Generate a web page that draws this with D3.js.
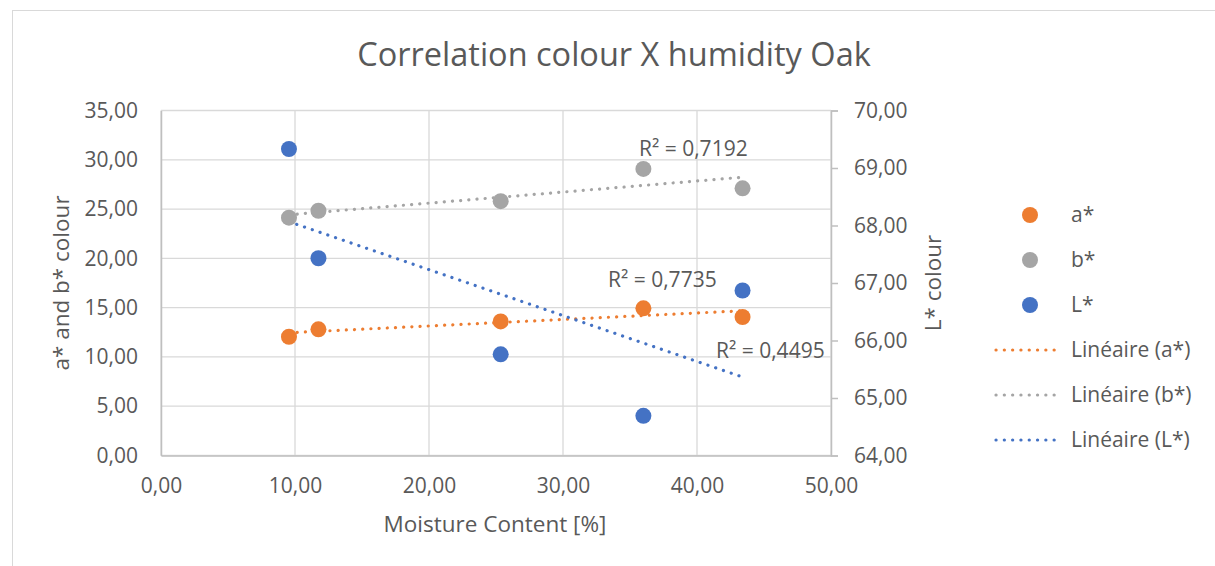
<!DOCTYPE html>
<html>
<head>
<meta charset="utf-8">
<script src="https://cdn.jsdelivr.net/npm/d3@7"></script>
<style>
  body { margin: 0; background: #fff; }
  text { font-family: "Open Sans", sans-serif; fill: #595959; }
</style>
</head>
<body>
<svg id="chart" width="1215" height="566"></svg>
<script>
// donnees
var moisture = [9.55, 11.75, 25.35, 36.0, 43.4];
var aStar = [12.05, 12.8, 13.6, 14.93, 14.05];
var bStar = [24.13, 24.83, 25.8, 29.07, 27.1];
var lStar = [69.33, 67.43, 65.76, 64.69, 66.87];

var xTicks = [0, 10, 20, 30, 40, 50];
var leftTicks = [0, 5, 10, 15, 20, 25, 30, 35];
var rightTicks = [64, 65, 66, 67, 68, 69, 70];

var seriesNames = ["a*", "b*", "L*"];
var colors = ["#ED7D31", "#A5A5A5", "#4472C4"];
var r2Labels = ["R² = 0,7735", "R² = 0,7192", "R² = 0,4495"];

var svg = d3.select("#chart");
var fmt = function (d) { return d3.format(".2f")(d).replace(".", ","); };

// bordure du graphique
svg.append("rect")
    .attr("x", 12.5).attr("y", 10.5)
    .attr("width", 1215).attr("height", 600)
    .attr("fill", "none").attr("stroke", "#d9d9d9");

var x = d3.scaleLinear().domain([0, 50]).range([161, 831]);
var yL = d3.scaleLinear().domain([0, 35]).range([455.5, 110.5]);
var yR = d3.scaleLinear().domain([64, 70]).range([455.5, 110.5]);

// grille
svg.append("g").selectAll("line")
    .data(leftTicks)
    .enter().append("line")
    .attr("x1", x(0)).attr("x2", x(50))
    .attr("y1", function (d) { return yL(d); })
    .attr("y2", function (d) { return yL(d); })
    .attr("stroke", "#d9d9d9").attr("stroke-width", 1.3);

svg.append("g").selectAll("line")
    .data(xTicks)
    .enter().append("line")
    .attr("y1", yL(0)).attr("y2", yL(35))
    .attr("x1", function (d) { return x(d); })
    .attr("x2", function (d) { return x(d); })
    .attr("stroke", "#d9d9d9").attr("stroke-width", 1.3);

// axes
var axisColor = "#bfbfbf";
var gx = svg.append("g")
    .attr("transform", "translate(0," + yL(0) + ")")
    .call(d3.axisBottom(x).tickValues(xTicks).tickFormat(fmt).tickSize(0).tickPadding(23));
var gl = svg.append("g")
    .attr("transform", "translate(" + x(0) + ",0)")
    .call(d3.axisLeft(yL).tickValues(leftTicks).tickFormat(fmt).tickSize(0).tickPadding(23));
var gr = svg.append("g")
    .attr("transform", "translate(" + x(50) + ",0)")
    .call(d3.axisRight(yR).tickValues(rightTicks).tickFormat(fmt).tickSize(7).tickPadding(16));

[gx, gl, gr].forEach(function (g) {
    g.select(".domain").attr("stroke", axisColor).attr("stroke-width", 1.5);
    g.selectAll(".tick line").attr("stroke", axisColor).attr("stroke-width", 1.5);
    g.selectAll(".tick text")
        .style("font-family", "'Open Sans', sans-serif")
        .style("font-size", "21px")
        .attr("fill", "#595959");
});

// titres
svg.append("text")
    .attr("x", 614).attr("y", 66)
    .attr("text-anchor", "middle")
    .style("font-size", "32.5px")
    .text("Correlation colour X humidity Oak");

svg.append("text")
    .attr("x", 495).attr("y", 532)
    .attr("text-anchor", "middle")
    .style("font-size", "22.5px")
    .text("Moisture Content [%]");

svg.append("text")
    .attr("transform", "translate(69,283) rotate(-90)")
    .attr("text-anchor", "middle")
    .style("font-size", "22.5px")
    .text("a* and b* colour");

svg.append("text")
    .attr("transform", "translate(941,283) rotate(-90)")
    .attr("text-anchor", "middle")
    .style("font-size", "22.5px")
    .text("L* colour");

// series
var series = [
    { name: seriesNames[0], values: aStar, y: yL, color: colors[0] },
    { name: seriesNames[1], values: bStar, y: yL, color: colors[1] },
    { name: seriesNames[2], values: lStar, y: yR, color: colors[2] }
];

// droites de regression lineaire
function linReg(xs, ys) {
    var mx = d3.mean(xs), my = d3.mean(ys);
    var sxy = d3.sum(xs, function (d, i) { return (d - mx) * (ys[i] - my); });
    var sxx = d3.sum(xs, function (d) { return (d - mx) * (d - mx); });
    var b = sxy / sxx;
    return function (v) { return my + b * (v - mx); };
}

var xMin = d3.min(moisture), xMax = d3.max(moisture);

series.forEach(function (s) {
    var f = linReg(moisture, s.values);
    svg.append("line")
        .attr("x1", x(xMin)).attr("y1", s.y(f(xMin)))
        .attr("x2", x(xMax)).attr("y2", s.y(f(xMax)))
        .attr("stroke", s.color)
        .attr("stroke-width", 3.2)
        .attr("stroke-linecap", "round")
        .attr("stroke-dasharray", "0.1,8.1");
});

series.forEach(function (s) {
    svg.append("g").selectAll("circle")
        .data(s.values)
        .enter().append("circle")
        .attr("cx", function (d, i) { return x(moisture[i]); })
        .attr("cy", function (d) { return s.y(d); })
        .attr("r", 8)
        .attr("fill", s.color);
});

// etiquettes R²
var r2Pos = [[608, 287], [639, 156], [716, 358]];
r2Labels.forEach(function (t, i) {
    svg.append("text")
        .attr("x", r2Pos[i][0]).attr("y", r2Pos[i][1])
        .style("font-size", "21px")
        .text(t);
});

// legende
var legend = svg.append("g");
series.forEach(function (s, i) {
    legend.append("circle")
        .attr("cx", 1030).attr("cy", 215 + i * 45)
        .attr("r", 8).attr("fill", s.color);
    legend.append("text")
        .attr("x", 1071).attr("y", 215 + i * 45 + 7)
        .style("font-size", "21px")
        .text(s.name);
});
series.forEach(function (s, i) {
    var yy = 350 + i * 45;
    legend.append("line")
        .attr("x1", 996).attr("x2", 1062)
        .attr("y1", yy).attr("y2", yy)
        .attr("stroke", s.color)
        .attr("stroke-width", 3.2)
        .attr("stroke-linecap", "round")
        .attr("stroke-dasharray", "0.1,8.2");
    legend.append("text")
        .attr("x", 1071).attr("y", yy + 7)
        .style("font-size", "21px")
        .text("Linéaire (" + s.name + ")");
});
</script>
</body>
</html>
